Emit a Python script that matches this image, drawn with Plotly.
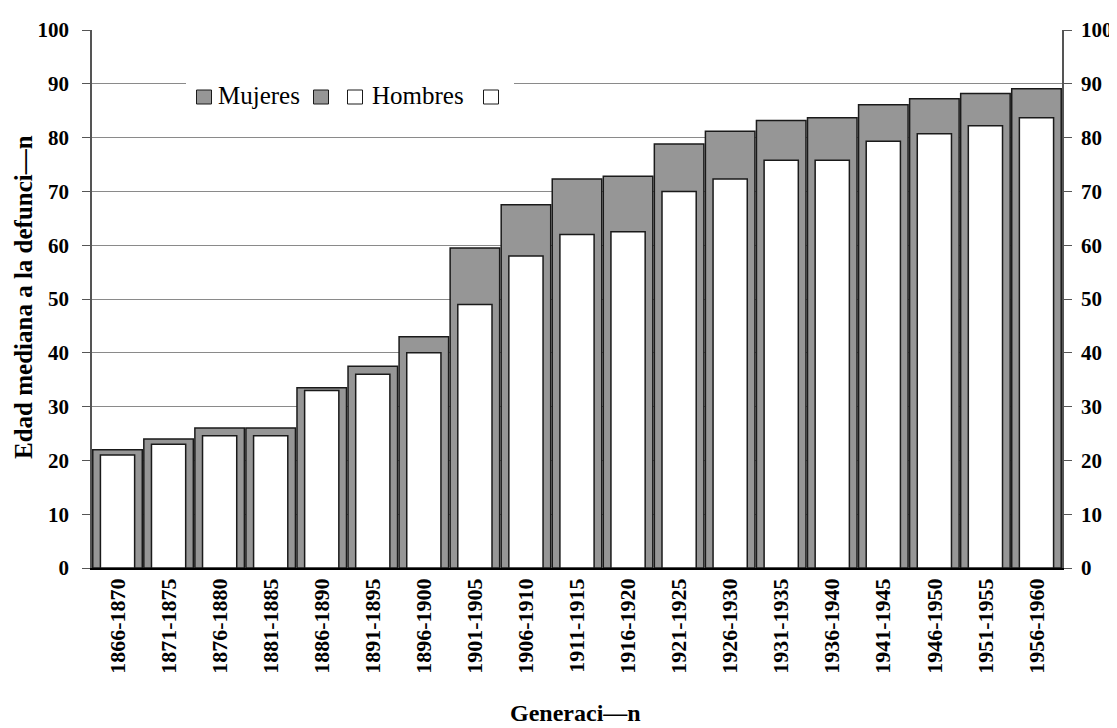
import plotly.graph_objects as go

generaciones = ["1866-1870", "1871-1875", "1876-1880", "1881-1885", "1886-1890",
                "1891-1895", "1896-1900", "1901-1905", "1906-1910", "1911-1915",
                "1916-1920", "1921-1925", "1926-1930", "1931-1935", "1936-1940",
                "1941-1945", "1946-1950", "1951-1955", "1956-1960"]
mujeres = [22.0, 24.0, 26.0, 26.0, 33.5, 37.5, 43.0, 59.5, 67.5, 72.3,
           72.8, 78.8, 81.2, 83.2, 83.7, 86.1, 87.2, 88.2, 89.1]
hombres = [21.0, 23.0, 24.6, 24.6, 33.0, 36.0, 40.0, 49.0, 58.0, 62.0,
           62.5, 70.0, 72.3, 75.8, 75.8, 79.3, 80.7, 82.2, 83.7]
y_ticks = [0, 10, 20, 30, 40, 50, 60, 70, 80, 90, 100]

FONT = "Liberation Serif"
GREY = "#969696"
EDGE = "#1a1a1a"

# page has an 8px body margin; plot area on screen: x 92..1062, y 30..568
OFF = 8
W, H = 1117 - OFF, 728 - OFF
ML, MR, MT, MB = 92 - OFF, 55, 30 - OFF, 160
PW, PH = W - ML - MR, H - MT - MB
X0, Y1 = 92, 568


def px(xs):
    return (xs - X0) / PW


def py(ys):
    return (Y1 - ys) / PH


fig = go.Figure()
fig.add_trace(go.Bar(x=generaciones, y=mujeres, name="Mujeres", width=0.97,
                     marker=dict(color=GREY, line=dict(color=EDGE, width=1.5))))
fig.add_trace(go.Bar(x=generaciones, y=hombres, name="Hombres", width=0.67,
                     marker=dict(color="white", line=dict(color=EDGE, width=1.5))))
fig.add_trace(go.Scatter(x=[generaciones[0]], y=[0], yaxis="y2", mode="markers",
                         marker=dict(opacity=0), showlegend=False, hoverinfo="skip"))

tick_font = dict(family=FONT, size=21, color="black", weight="bold")
fig.update_layout(
    width=W, height=H,
    paper_bgcolor="white", plot_bgcolor="white",
    margin=dict(l=ML, r=MR, t=MT, b=MB, autoexpand=False),
    barmode="overlay",
    font=dict(family=FONT, color="black"),
    showlegend=False,
    xaxis=dict(type="category", range=[-0.5, len(generaciones) - 0.5],
               tickangle=-90, showline=True, linecolor="black", automargin=False,
               linewidth=1.5, ticks="", showgrid=False,
               tickfont=dict(family=FONT, size=22, color="black", weight="bold")),
    yaxis=dict(range=[0, 100], tickvals=y_ticks, showline=True, linecolor="#555",
               linewidth=1.5, ticks="outside", ticklen=8, tickcolor="#555",
               showgrid=True, gridcolor="#8a8a8a", gridwidth=1, zeroline=False,
               automargin=False, tickfont=tick_font, ticklabelstandoff=9),
    yaxis2=dict(range=[0, 100], tickvals=y_ticks, overlaying="y", side="right",
                showline=True, linecolor="#555", linewidth=1.5, ticks="outside",
                ticklen=8, tickcolor="#555", showgrid=False, zeroline=False,
                automargin=False, tickfont=tick_font, ticklabelstandoff=5),
)

# axis titles
fig.add_annotation(text="Generaci—n", xref="paper", yref="paper", x=px(575), y=py(713),
                   xanchor="center", yanchor="middle", showarrow=False,
                   font=dict(family=FONT, size=24, weight="bold"))
fig.add_annotation(text="Edad mediana a la defunci—n", xref="paper", yref="paper",
                   x=px(23), y=py(297), xanchor="center", yanchor="middle",
                   textangle=-90, showarrow=False,
                   font=dict(family=FONT, size=25, weight="bold"))

# legend box
shapes = [dict(type="rect", xref="paper", yref="paper", x0=px(186), x1=px(514),
               y0=py(120), y1=py(72), fillcolor="white", line=dict(width=0),
               layer="above")]
for cx, col in [(204, GREY), (321, GREY), (355, "white"), (491, "white")]:
    shapes.append(dict(type="rect", xref="paper", yref="paper",
                       x0=px(cx - 7.5), x1=px(cx + 7.5), y0=py(104), y1=py(90),
                       fillcolor=col, line=dict(color=EDGE, width=1), layer="above"))
fig.update_layout(shapes=shapes)
fig.add_annotation(text="Mujeres", xref="paper", yref="paper", x=px(216), y=py(95),
                   xanchor="left", yanchor="middle", showarrow=False,
                   font=dict(family=FONT, size=25, color="black"))
fig.add_annotation(text="Hombres", xref="paper", yref="paper", x=px(370), y=py(95),
                   xanchor="left", yanchor="middle", showarrow=False,
                   font=dict(family=FONT, size=25, color="black"))

fig.write_html("out.html")
